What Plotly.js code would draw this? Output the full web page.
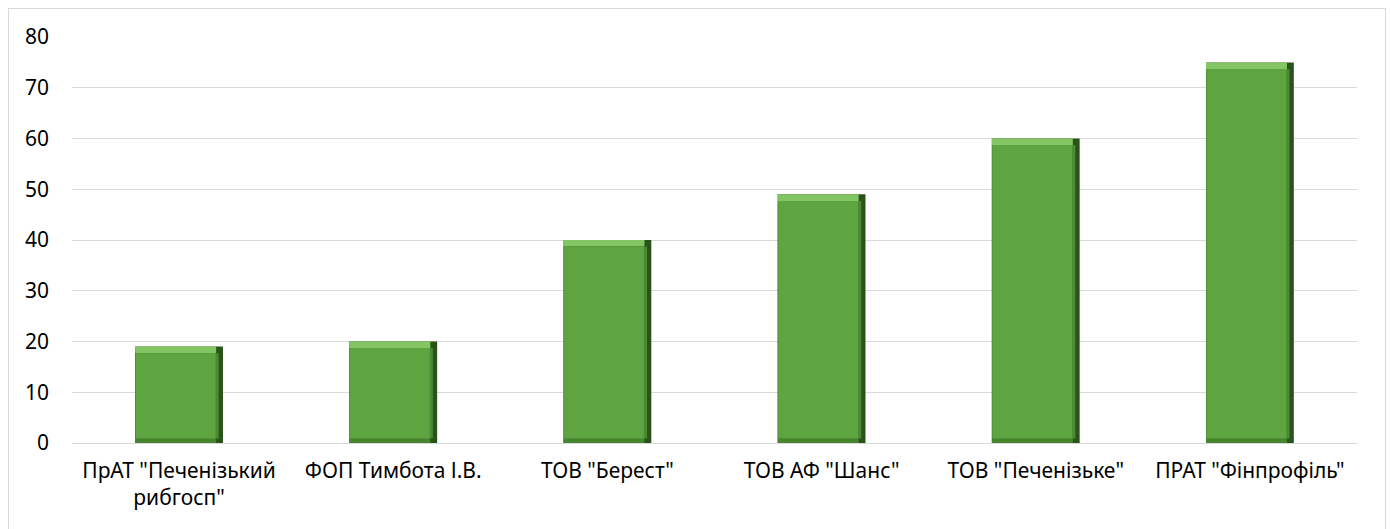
<!DOCTYPE html>
<html><head><meta charset="utf-8">
<script src="https://cdn.plot.ly/plotly-3.0.1.min.js"></script>
<style>
html,body{margin:0;padding:0;background:#fff;overflow:hidden;}
#frame{position:absolute;left:8px;top:8px;width:1376px;height:540px;border:1px solid #D9D9D9;}
#chart{position:absolute;left:0;top:0;width:1390px;height:529px;}
</style></head>
<body>
<div id="frame"></div>
<div id="chart"></div>
<script>
const categories = ['ПрАТ "Печенізький<br>рибгосп"', 'ФОП Тимбота І.В.', 'ТОВ "Берест"', 'ТОВ АФ "Шанс"', 'ТОВ "Печенізьке"', 'ПРАТ "Фінпрофіль"'];
const values = [19, 20, 40, 49, 60, 75];
const yTicks = [0, 10, 20, 30, 40, 50, 60, 70, 80];

const W = 0.41, OFF = -0.205;
const edgeBottom = 0.9, edgeTop = 1.3, edgeRight = 0.032;

const dark = {type:'bar', x:categories, y:values, base:values.map(()=>0), width:W, offset:OFF,
  marker:{color:'#2A531B', line:{width:0}}, hoverinfo:'skip', showlegend:false};
const light = {type:'bar', x:categories, y:values.map(()=>edgeTop), base:values.map(v=>v-edgeTop), width:W-edgeRight, offset:OFF,
  marker:{color:'#84C564', line:{width:0}}, hoverinfo:'skip', showlegend:false};
const bottom = {type:'bar', x:categories, y:values.map(()=>edgeBottom), base:values.map(()=>0), width:W-edgeRight, offset:OFF,
  marker:{color:'#47852F', line:{width:0}}, hoverinfo:'skip', showlegend:false};
const mid = {type:'bar', x:categories, y:values.map(v=>v-edgeTop-edgeBottom), base:values.map(()=>edgeBottom), width:W-edgeRight+0.012, offset:OFF,
  marker:{color:'#4B8A33', line:{width:0}}, hoverinfo:'skip', showlegend:false};
const main = {type:'bar', x:categories, y:values.map(v=>v-edgeTop-edgeBottom), base:values.map(()=>edgeBottom), width:W-edgeRight-0.006, offset:OFF+0.003,
  marker:{color:'#5EA541', line:{width:0}}, showlegend:false};

const layout = {
  width:1390, height:529,
  margin:{l:72, r:33, t:37, b:86},
  paper_bgcolor:'rgba(0,0,0,0)', plot_bgcolor:'rgba(0,0,0,0)',
  barmode:'overlay',
  font:{family:'"Noto Sans", Roboto, sans-serif', size:21, color:'#000'},
  xaxis:{tickvals:categories, ticktext:categories, showgrid:false, zeroline:false, showline:false,
    ticks:'', ticklabelstandoff:13, tickfont:{size:21}},
  yaxis:{range:[0,80], tickvals:yTicks, ticktext:yTicks.map(String), showgrid:true, gridcolor:'#D9D9D9', gridwidth:1,
    zeroline:true, zerolinecolor:'#D9D9D9', zerolinewidth:1, showline:false, ticks:'', ticklabelstandoff:22, tickfont:{size:21}}
};
Plotly.newPlot('chart', [dark, light, bottom, mid, main], layout, {staticPlot:true});
</script>
</body></html>
